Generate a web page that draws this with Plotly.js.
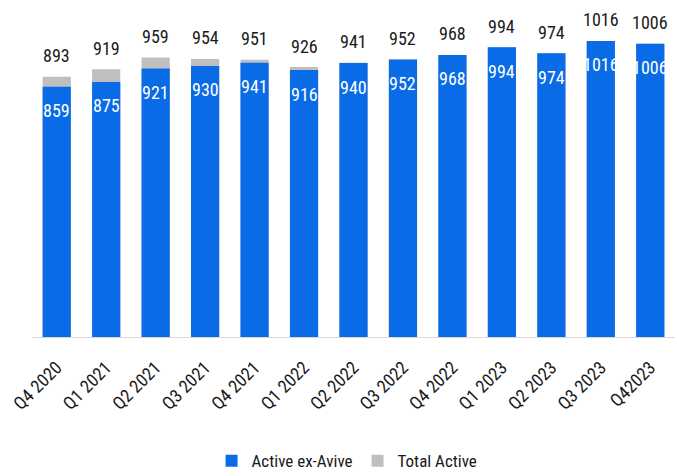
<!DOCTYPE html>
<html>
<head>
<meta charset="utf-8">
<script src="https://cdn.plot.ly/plotly-3.0.1.min.js"></script>
<style>html,body{margin:0;padding:0;background:#fff;}#chart{width:677px;height:476px;}</style>
</head>
<body>
<div id="chart"></div>
<script>
const quarters = ["Q4 2020","Q1 2021","Q2 2021","Q3 2021","Q4 2021","Q1 2022","Q2 2022","Q3 2022","Q4 2022","Q1 2023","Q2 2023","Q3 2023","Q42023"];
const activeExAvive = [859,875,921,930,941,916,940,952,968,994,974,1016,1006];
const totalActive = [893,919,959,954,951,926,941,952,968,994,974,1016,1006];

const FONT = "Roboto Condensed, Arial Narrow, sans-serif";

const traces = [
  {type:"bar", name:"Total Active", x:quarters, y:totalActive, marker:{color:"#BFBFBF"}, legendrank:2, hoverinfo:"skip"},
  {type:"bar", name:"Active ex-Avive", x:quarters, y:activeExAvive, marker:{color:"#0A6BE6"}, legendrank:1, hoverinfo:"skip"}
];

const annotations = [];
quarters.forEach((q,i)=>{
  annotations.push({x:q, y:totalActive[i], text:String(totalActive[i]), showarrow:false, yshift:21, yanchor:"middle",
    font:{family:FONT, size:18, color:"#1a1a1a"}});
  annotations.push({x:q, y:activeExAvive[i], text:String(activeExAvive[i]), showarrow:false, yshift:-24, yanchor:"middle",
    font:{family:FONT, size:18, color:"#ffffff"}});
});

const layout = {
  width:677, height:476,
  margin:{l:32, r:2, t:10, b:139, autoexpand:false},
  barmode:"overlay",
  bargap:0.43,
  paper_bgcolor:"#fff", plot_bgcolor:"#fff",
  font:{family:FONT, size:17, color:"#1a1a1a"},
  xaxis:{type:"category", tickangle:-45, showline:true, linecolor:"#d9d9d9", linewidth:1, ticks:"", showgrid:false,
    automargin:false, ticklabelstandoff:12,
    tickfont:{family:FONT, size:18, color:"#1a1a1a"}},
  yaxis:{range:[0,1122], visible:false, showgrid:false, zeroline:false},
  showlegend:true,
  legend:{orientation:"h", x:0.49, xanchor:"center", y:-0.38, yanchor:"middle",
    font:{family:FONT, size:17, color:"#1a1a1a"}, itemwidth:30, tracegroupgap:0},
  annotations:annotations
};

Plotly.newPlot("chart", traces, layout, {displayModeBar:false, staticPlot:true});
</script>
</body>
</html>
